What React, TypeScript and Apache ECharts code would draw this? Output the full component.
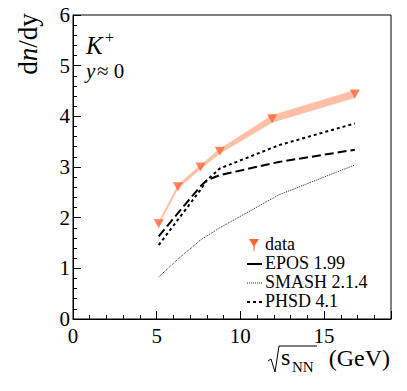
import React, { useEffect, useRef } from "react";
import * as echarts from "echarts";

const dataX = [5.12, 6.27, 7.62, 8.77, 11.9, 16.84];
const dataY = [1.88, 2.61, 3.0, 3.31, 3.95, 4.44];
const dataErr = [0.03, 0.035, 0.04, 0.045, 0.07, 0.075];

const modelX = [5.12, 6.27, 7.62, 8.0, 8.77, 12.3, 16.84];
const eposY = [1.63, 2.09, 2.62, 2.74, 2.84, 3.1, 3.34];
const smashY = [0.83, 1.18, 1.56, 1.64, 1.8, 2.45, 3.04];
const phsdY = [1.46, 1.96, 2.55, 2.74, 2.97, 3.43, 3.86];

const xTicks = [0, 5, 10, 15];
const yTicks = [0, 1, 2, 3, 4, 5, 6];
const legendNames = ["data", "EPOS 1.99", "SMASH 2.1.4", "PHSD 4.1"];

const SERIF = "'Liberation Serif', 'Times New Roman', serif";
const ORANGE = "#ff6633";
const BAND = "#ffbfa6";

export default function App() {
  const ref = useRef<HTMLDivElement>(null);
  useEffect(() => {
    if (!ref.current) return;
    const chart = echarts.init(ref.current, undefined, { renderer: "svg" });
    const bandData = dataX.map((x, i) => [x, dataY[i] - dataErr[i], dataY[i] + dataErr[i], i]);
    const legendY = [244, 263, 282, 301];
    chart.setOption({
      animation: false,
      backgroundColor: "#fff",
      grid: { left: 73, top: 15, width: 318, height: 304, show: true, borderColor: "#000", borderWidth: 1, backgroundColor: "transparent" },
      xAxis: {
        type: "value",
        min: 0,
        max: 19,
        interval: 5,
        axisLine: { show: true, lineStyle: { color: "#000", width: 1 } },
        axisTick: { show: true, inside: true, length: 8, lineStyle: { color: "#000" } },
        minorTick: { show: true, splitNumber: 5, length: 4, lineStyle: { color: "#000" } },
        splitLine: { show: false },
        axisLabel: {
          fontFamily: SERIF, fontSize: 21, color: "#000", margin: 6,
          formatter: (v: number) => (xTicks.includes(v) ? String(v) : ""),
        },
      },
      yAxis: {
        type: "value",
        min: 0,
        max: 6,
        interval: 1,
        axisLine: { show: true, lineStyle: { color: "#000", width: 1 } },
        axisTick: { show: true, inside: true, length: 8, lineStyle: { color: "#000" } },
        minorTick: { show: true, splitNumber: 5, length: 4, lineStyle: { color: "#000" } },
        splitLine: { show: false },
        axisLabel: {
          fontFamily: SERIF, fontSize: 21, color: "#000", margin: 3,
          formatter: (v: number) => (yTicks.includes(v) ? String(v) : ""),
        },
      },
      series: [
        {
          type: "custom",
          name: "band",
          data: bandData,
          encode: { x: 0, y: [1, 2] },
          renderItem: (params: any, api: any) => {
            const i = params.dataIndex;
            if (i >= dataX.length - 1) return null;
            const a1 = api.coord([dataX[i], dataY[i] + dataErr[i]]);
            const b1 = api.coord([dataX[i + 1], dataY[i + 1] + dataErr[i + 1]]);
            const b0 = api.coord([dataX[i + 1], dataY[i + 1] - dataErr[i + 1]]);
            const a0 = api.coord([dataX[i], dataY[i] - dataErr[i]]);
            return {
              type: "polygon",
              shape: { points: [a1, b1, b0, a0] },
              style: { fill: BAND, stroke: BAND, lineWidth: 0.5 },
            };
          },
          z: 1,
        },
        {
          type: "line",
          name: "EPOS 1.99",
          data: modelX.map((x, i) => [x, eposY[i]]),
          showSymbol: false,
          lineStyle: { color: "#000", width: 2, type: [9, 4] },
          z: 2,
        },
        {
          type: "line",
          name: "SMASH 2.1.4",
          data: modelX.map((x, i) => [x, smashY[i]]),
          showSymbol: false,
          lineStyle: { color: "#222", width: 1, type: [1, 1] },
          z: 2,
        },
        {
          type: "line",
          name: "PHSD 4.1",
          data: modelX.map((x, i) => [x, phsdY[i]]),
          showSymbol: false,
          lineStyle: { color: "#000", width: 2, type: [3, 3] },
          z: 2,
        },
        {
          type: "scatter",
          name: "data",
          data: dataX.map((x, i) => [x, dataY[i]]),
          symbol: "triangle",
          symbolRotate: 180,
          symbolSize: [10, 9],
          itemStyle: { color: ORANGE },
          z: 3,
        },
      ],
      graphic: [
        {
          type: "text",
          x: 28,
          y: 44,
          rotation: Math.PI / 2,
          style: {
            text: "{a|d}{b|n}{a|/dy}",
            textAlign: "center",
            textVerticalAlign: "middle",
            rich: {
              a: { fontFamily: SERIF, fontSize: 27, fill: "#000" },
              b: { fontFamily: SERIF, fontSize: 27, fontStyle: "italic", fill: "#000" },
            },
          },
        },
        { type: "text", x: 86, y: 33, style: { text: "K", font: `italic 25px ${SERIF}`, fill: "#000" } },
        { type: "text", x: 105, y: 29, style: { text: "+", font: `16px ${SERIF}`, fill: "#000" } },
        { type: "text", x: 86, y: 60, style: { text: "y", font: `italic 21px ${SERIF}`, fill: "#000" } },
        { type: "text", x: 97, y: 60, style: { text: "≈ 0", font: `21px ${SERIF}`, fill: "#000" } },
        {
          type: "polyline",
          shape: { points: [[268, 361], [271, 359], [275, 372], [279, 346], [317, 346]] },
          style: { stroke: "#000", lineWidth: 1, fill: null },
        },
        { type: "text", x: 281, y: 345, style: { text: "s", font: `24px ${SERIF}`, fill: "#000" } },
        { type: "text", x: 292, y: 359, style: { text: "NN", font: `15px ${SERIF}`, fill: "#000" } },
        { type: "text", x: 390, y: 346, style: { text: "(GeV)", font: `24px ${SERIF}`, fill: "#000", textAlign: "right" } },
        // legend
        { type: "polygon", shape: { points: [[249, 239], [259, 239], [254, 247]] }, style: { fill: ORANGE } },
        { type: "line", shape: { x1: 254, y1: 242, x2: 254, y2: 251 }, style: { stroke: ORANGE, lineWidth: 1 } },
        { type: "line", shape: { x1: 247, y1: 264, x2: 262, y2: 264 }, style: { stroke: "#000", lineWidth: 2 } },
        { type: "line", shape: { x1: 247, y1: 283, x2: 262, y2: 283 }, style: { stroke: "#222", lineWidth: 1, lineDash: [1, 1] } },
        { type: "line", shape: { x1: 247, y1: 302, x2: 262, y2: 302 }, style: { stroke: "#000", lineWidth: 2, lineDash: [3, 3] } },
        ...legendNames.map((n, i) => ({
          type: "text",
          x: 265,
          y: legendY[i],
          style: { text: n, font: `18px ${SERIF}`, fill: "#000", textVerticalAlign: "middle" },
        })),
      ],
    });
    return () => chart.dispose();
  }, []);
  return <div ref={ref} style={{ position: "fixed", left: 0, top: 0, width: 407, height: 391 }} />;
}
